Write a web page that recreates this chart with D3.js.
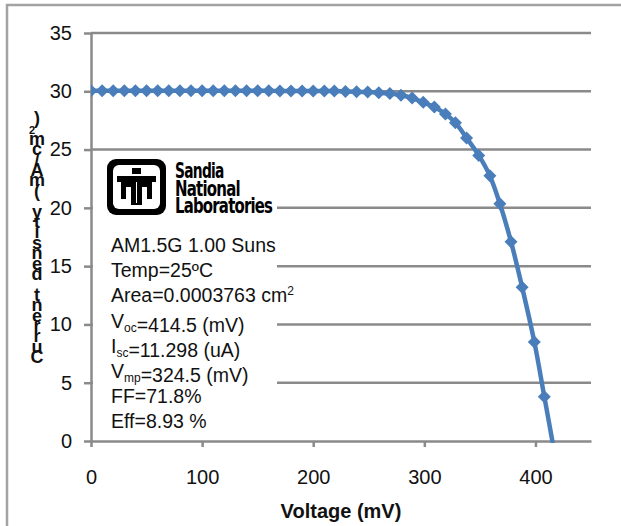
<!DOCTYPE html>
<html>
<head>
<meta charset="utf-8">
<script src="https://cdn.jsdelivr.net/npm/d3@7"></script>
<style>
  body { margin: 0; background: #fff; }
  svg { display: block; font-family: "Liberation Sans", Arial, sans-serif; }
</style>
</head>
<body>
<div id="field"></div>
<script>
// measured I-V points (mV, mA/cm2)
const voltage = [0, 10, 20, 30, 40, 50, 60, 70, 80, 90, 100, 110, 120, 130, 140, 150, 160, 170, 180, 190, 200, 210,
    219, 229, 239, 249, 259, 269, 279, 289, 299, 309, 319, 328, 338, 349, 359, 368, 378, 388, 399, 408, 419];
const current = [30.05, 30.05, 30.05, 30.05, 30.05, 30.05, 30.04, 30.04, 30.04, 30.04, 30.04, 30.04, 30.04, 30.04, 30.04, 30.04, 30.04, 30.03, 30.03, 30.03, 30.03, 30.03,
    30.02, 29.98, 29.95, 29.93, 29.88, 29.8, 29.66, 29.42, 29.05, 28.65, 28.05, 27.3, 26.0, 24.5, 22.75, 20.35, 17.1, 13.2, 8.5, 3.8, -2.0];

const xTicks = [0, 100, 200, 300, 400];
const yTicks = [0, 5, 10, 15, 20, 25, 30, 35];
const xTitle = "Voltage (mV)";
const yTitle = "Current density (mA/cm2)";
const logoLines = ["Sandia", "National", "Laboratories"];
const infoLines = ["AM1.5G 1.00 Suns", "Temp=25ºC", "Area=0.0003763 cm^2", "V_oc=414.5 (mV)",
    "I_sc=11.298 (uA)", "V_mp=324.5 (mV)", "FF=71.8%", "Eff=8.93 %"];

const width = 621, height = 526;
const plotLeft = 91, plotRight = 591, plotTop = 33, plotBottom = 441;
const gray = "#8a8a8a";
const blue = "#4a7ebb";

const svg = d3.select("#field").append("svg")
    .attr("width", width)
    .attr("height", height);

// outer frame (top and left edges only)
svg.append("path")
    .attr("d", "M7,526 V5 H621")
    .attr("fill", "none")
    .attr("stroke", "#a3a3a3")
    .attr("stroke-width", 2.5);

const x = d3.scaleLinear().domain([0, 450]).range([plotLeft, plotRight]);
const y = d3.scaleLinear().domain([0, 35]).range([plotBottom, plotTop]);

// gridlines
svg.append("g").selectAll("line")
    .data(yTicks.filter(function(d) { return d > 0; }))
    .enter().append("line")
    .attr("x1", plotLeft).attr("x2", plotRight)
    .attr("y1", function(d) { return y(d); })
    .attr("y2", function(d) { return y(d); })
    .attr("stroke", gray)
    .attr("stroke-width", 2.5);

// y axis
const yAxis = svg.append("g")
    .attr("transform", "translate(" + plotLeft + ",0)")
    .call(d3.axisLeft(y).tickValues(yTicks).tickSize(7).tickSizeOuter(0).tickPadding(12));

// x axis
const xAxis = svg.append("g")
    .attr("transform", "translate(0," + plotBottom + ")")
    .call(d3.axisBottom(x).tickValues(xTicks).tickSize(6).tickSizeOuter(0).tickPadding(23));

[xAxis, yAxis].forEach(function(a) {
    a.select(".domain").attr("stroke", gray).attr("stroke-width", 2.5);
    a.selectAll(".tick line").attr("stroke", gray).attr("stroke-width", 2.5);
    a.selectAll(".tick text")
        .attr("fill", "#111")
        .style("font-size", "20px")
        .style("font-family", "'Liberation Sans', Arial, sans-serif");
});

// white box behind logo and info text
svg.append("rect")
    .attr("x", 93).attr("y", 156)
    .attr("width", 184).attr("height", 281)
    .attr("fill", "#fff");

// Sandia logo (thunderbird)
const logo = svg.append("g").attr("transform", "translate(107,159)");
logo.append("rect")
    .attr("width", 59).attr("height", 56).attr("rx", 9)
    .attr("fill", "#000");
logo.append("rect")
    .attr("x", 6).attr("y", 6).attr("width", 47).attr("height", 44).attr("rx", 6)
    .attr("fill", "#fff");
logo.append("path")
    .attr("fill", "#000")
    .attr("d", "M10,17 H49 V23 H45 V40 H40 V28 H35 V46 H24 V28 H19 V40 H14 V23 H10 Z" +
        " M25,9 H34 V15 H25 Z");
logo.append("path")
    .attr("fill", "#fff")
    .attr("d", "M29,23 H30 V44 H29 Z");

svg.append("g").selectAll("text")
    .data(logoLines)
    .enter().append("text")
    .attr("x", 175)
    .attr("y", function(d, i) { return 178 + i * 17.7; })
    .attr("textLength", function(d) { return d.length * 8.1; })
    .attr("lengthAdjust", "spacingAndGlyphs")
    .style("font-family", "'DejaVu Sans Condensed', 'DejaVu Sans', sans-serif")
    .style("font-weight", "bold")
    .style("font-size", "21px")
    .style("letter-spacing", "-1px")
    .attr("fill", "#000")
    .text(function(d) { return d; });

// info block, "_x" subscript, "^x" superscript
const info = svg.append("g")
    .style("font-size", "19.5px")
    .attr("fill", "#111");
infoLines.forEach(function(line, i) {
    const t = info.append("text")
        .attr("x", 111)
        .attr("y", 252 + i * 25.2);
    const parts = line.split(/([_^][a-z0-9]+)/);
    parts.forEach(function(p) {
        if (p === "") return;
        if (p[0] === "_") {
            t.append("tspan").attr("dy", 4).style("font-size", "12px").text(p.slice(1));
            t.append("tspan").attr("dy", -4).text("");
        } else if (p[0] === "^") {
            t.append("tspan").attr("dy", -7).style("font-size", "12px").text(p.slice(1));
            t.append("tspan").attr("dy", 7).text("");
        } else {
            t.append("tspan").text(p);
        }
    });
});

// data line and diamond markers
svg.append("defs").append("clipPath")
    .attr("id", "clip")
    .append("rect")
    .attr("x", plotLeft).attr("y", 0)
    .attr("width", plotRight - plotLeft).attr("height", plotBottom + 2);

const points = voltage.map(function(v, i) { return [v, current[i]]; });

const plot = svg.append("g").attr("clip-path", "url(#clip)");

plot.append("path")
    .datum(points)
    .attr("fill", "none")
    .attr("stroke", blue)
    .attr("stroke-width", 4.5)
    .attr("d", d3.line()
        .x(function(d) { return x(d[0]); })
        .y(function(d) { return y(d[1]); })
        .curve(d3.curveCatmullRom.alpha(0.5)));

plot.selectAll(".marker")
    .data(points.slice(0, -1))
    .enter().append("path")
    .attr("class", "marker")
    .attr("transform", function(d) { return "translate(" + x(d[0]) + "," + y(d[1]) + ")"; })
    .attr("d", "M0,-6.5 L6.5,0 L0,6.5 L-6.5,0 Z")
    .attr("fill", blue);

// axis titles
svg.append("text")
    .attr("x", (plotLeft + plotRight) / 2)
    .attr("y", 518)
    .attr("text-anchor", "middle")
    .style("font-size", "20px")
    .style("font-weight", "bold")
    .attr("fill", "#111")
    .text(xTitle);

// y title drawn as upright letters stacked bottom-to-top
const yChars = yTitle.split("").reverse();
const yt = svg.append("text")
    .attr("text-anchor", "middle")
    .style("font-size", "18px")
    .style("font-weight", "bold")
    .attr("fill", "#111");
yChars.forEach(function(c, i) {
    yt.append("tspan")
        .attr("x", c === "2" ? 32 : 37)
        .attr("y", 124 + i * 10.4)
        .style("font-size", c === "2" ? "11px" : null)
        .text(c);
});
</script>
</body>
</html>
